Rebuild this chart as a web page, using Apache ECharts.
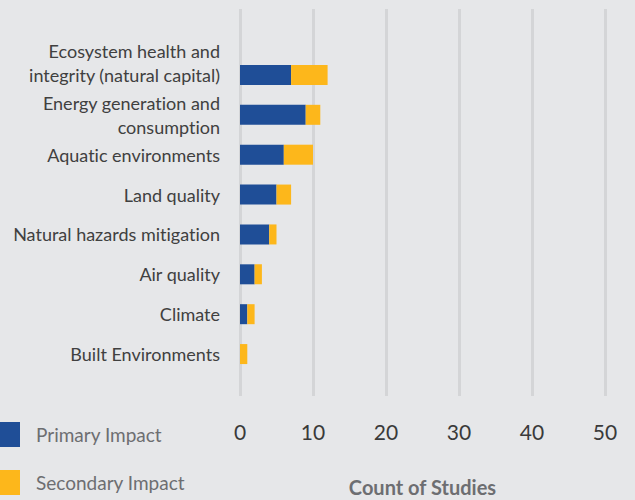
<!DOCTYPE html>
<html>
<head>
<meta charset="utf-8">
<script src="https://cdn.jsdelivr.net/npm/echarts@6/dist/echarts.min.js"></script>
<style>
  html, body { margin: 0; padding: 0; background: #e6e7e9; }
  #chart { width: 635px; height: 500px; }
  #chart text { font-variant-ligatures: none; font-feature-settings: "liga" 0, "clig" 0; }
</style>
</head>
<body>
<div id="chart"></div>
<script>
const categories = [
  'Ecosystem health and\nintegrity (natural capital)',
  'Energy generation and\nconsumption',
  'Aquatic environments',
  'Land quality',
  'Natural hazards mitigation',
  'Air quality',
  'Climate',
  'Built Environments'
];
const primaryImpact = [7, 9, 6, 5, 4, 2, 1, 0];
const secondaryImpact = [5, 2, 4, 2, 1, 1, 1, 1];
const xTicks = { min: 0, max: 50, interval: 10 };

const FONT = 'Lato, "Liberation Sans", sans-serif';
const chart = echarts.init(document.getElementById('chart'), null, { renderer: 'svg' });

chart.setOption({
  backgroundColor: '#e6e7e9',
  animation: false,
  textStyle: { fontFamily: FONT },
  legend: {
    orient: 'vertical',
    left: -5,
    top: 422,
    padding: 0,
    itemWidth: 25,
    itemHeight: 25,
    itemGap: 23,
    icon: 'rect',
    textStyle: { fontSize: 19, color: '#6d6e71', fontFamily: FONT, padding: [0, 0, 0, 11] },
    data: ['Primary Impact', 'Secondary Impact']
  },
  grid: [
    { left: 240, right: 30, top: 9, bottom: 104, outerBoundsMode: 'none', containLabel: false },
    { left: 240, right: 30, top: 55, bottom: 126, outerBoundsMode: 'none', containLabel: false }
  ],
  xAxis: [
    {
      gridIndex: 0,
      type: 'value',
      min: xTicks.min, max: xTicks.max, interval: xTicks.interval,
      axisLine: { show: false },
      axisTick: { show: false },
      splitLine: { show: true, lineStyle: { color: '#d4d5d7', width: 3 } },
      axisLabel: { fontSize: 21, color: '#3a3a3a', margin: 25, fontFamily: FONT },
      name: 'Count of Studies',
      nameLocation: 'middle',
      nameGap: 81,
      nameTextStyle: { fontSize: 20, fontWeight: 'bold', color: '#6d6e71', fontFamily: FONT }
    },
    {
      gridIndex: 1,
      type: 'value',
      min: xTicks.min, max: xTicks.max, interval: xTicks.interval,
      show: false
    }
  ],
  yAxis: [
    {
      gridIndex: 0,
      type: 'category',
      data: categories,
      show: false
    },
    {
      gridIndex: 1,
      type: 'category',
      data: categories,
      inverse: true,
      axisLine: { show: false },
      axisTick: { show: false },
      splitLine: { show: false },
      axisLabel: {
        interval: 0, fontSize: 18, color: '#404040', margin: 20, lineHeight: 24,
        fontFamily: FONT, align: 'right',
        formatter: function (v, i) { return i === 0 ? v + '\n ' : v; }
      }
    }
  ],
  series: [
    {
      name: 'Primary Impact',
      type: 'bar',
      stack: 'total',
      xAxisIndex: 1,
      yAxisIndex: 1,
      barWidth: 20,
      itemStyle: { color: '#1f4e97' },
      data: primaryImpact
    },
    {
      name: 'Secondary Impact',
      type: 'bar',
      stack: 'total',
      xAxisIndex: 1,
      yAxisIndex: 1,
      barWidth: 20,
      itemStyle: { color: '#fdb71b' },
      data: secondaryImpact
    }
  ]
});
</script>
</body>
</html>
